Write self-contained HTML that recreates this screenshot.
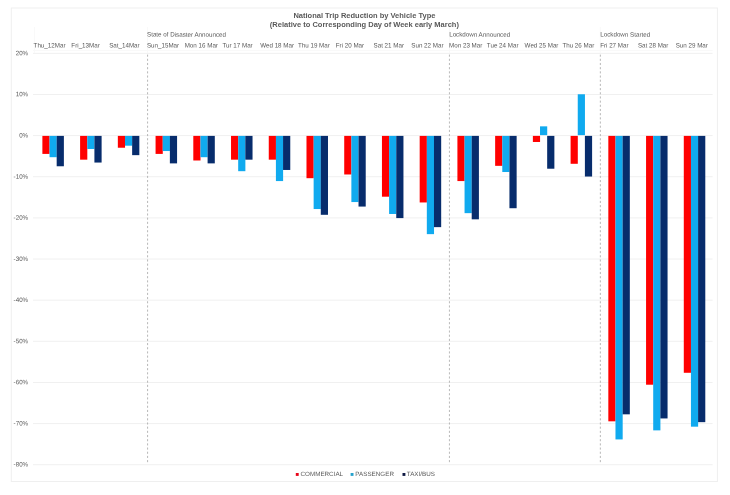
<!DOCTYPE html>
<html><head><meta charset="utf-8"><title>National Trip Reduction by Vehicle Type</title>
<style>html,body{margin:0;padding:0;background:#fff}svg{display:block}</style></head>
<body>
<svg width="730" height="495" viewBox="0 0 730 495" font-family="Liberation Sans, Arial, sans-serif" fill="#595959">
<rect width="730" height="495" fill="#fff"/>
<rect x="11.3" y="8.0" width="706.1" height="473.5" fill="#fff" stroke="#EFEFEF" stroke-width="1"/>
<g stroke="#F0F0F0" stroke-width="1">
<line x1="33.0" x2="712.6" y1="53.32" y2="53.32"/>
<line x1="33.0" x2="712.6" y1="94.46" y2="94.46"/>
<line x1="33.0" x2="712.6" y1="135.60" y2="135.60"/>
<line x1="33.0" x2="712.6" y1="176.74" y2="176.74"/>
<line x1="33.0" x2="712.6" y1="217.88" y2="217.88"/>
<line x1="33.0" x2="712.6" y1="259.02" y2="259.02"/>
<line x1="33.0" x2="712.6" y1="300.16" y2="300.16"/>
<line x1="33.0" x2="712.6" y1="341.30" y2="341.30"/>
<line x1="33.0" x2="712.6" y1="382.44" y2="382.44"/>
<line x1="33.0" x2="712.6" y1="423.58" y2="423.58"/>
<line x1="33.0" x2="712.6" y1="464.72" y2="464.72"/>
</g>
<text transform="matrix(0.97,0.001,0,1,28.10,55.22)" font-size="6.4" text-anchor="end">20%</text>
<text transform="matrix(0.97,0.001,0,1,28.10,96.36)" font-size="6.4" text-anchor="end">10%</text>
<text transform="matrix(0.97,0.001,0,1,28.10,137.50)" font-size="6.4" text-anchor="end">0%</text>
<text transform="matrix(0.97,0.001,0,1,28.10,178.64)" font-size="6.4" text-anchor="end">-10%</text>
<text transform="matrix(0.97,0.001,0,1,28.10,219.78)" font-size="6.4" text-anchor="end">-20%</text>
<text transform="matrix(0.97,0.001,0,1,28.10,260.92)" font-size="6.4" text-anchor="end">-30%</text>
<text transform="matrix(0.97,0.001,0,1,28.10,302.06)" font-size="6.4" text-anchor="end">-40%</text>
<text transform="matrix(0.97,0.001,0,1,28.10,343.20)" font-size="6.4" text-anchor="end">-50%</text>
<text transform="matrix(0.97,0.001,0,1,28.10,384.34)" font-size="6.4" text-anchor="end">-60%</text>
<text transform="matrix(0.97,0.001,0,1,28.10,425.48)" font-size="6.4" text-anchor="end">-70%</text>
<text transform="matrix(0.97,0.001,0,1,28.10,466.62)" font-size="6.4" text-anchor="end">-80%</text>
<g stroke="#F9F9F9" stroke-width="1">
<line x1="33" x2="712.6" y1="50.5" y2="50.5"/>
<line x1="34.40" x2="34.40" y1="27" y2="53"/>
<line x1="147.59" x2="147.59" y1="27" y2="53"/>
<line x1="449.43" x2="449.43" y1="27" y2="53"/>
<line x1="600.35" x2="600.35" y1="27" y2="53"/>
</g>
<g stroke="#A6A6A6" stroke-width="0.8" stroke-dasharray="2.1 2.08">
<line x1="147.59" x2="147.59" y1="54.6" y2="464"/>
<line x1="449.43" x2="449.43" y1="54.6" y2="464"/>
<line x1="600.35" x2="600.35" y1="54.6" y2="464"/>
</g>
<g fill="#FF0000">
<rect x="42.38" y="135.90" width="7.20" height="18.01"/>
<rect x="80.11" y="135.90" width="7.20" height="23.77"/>
<rect x="117.84" y="135.90" width="7.20" height="11.84"/>
<rect x="155.57" y="135.90" width="7.20" height="18.01"/>
<rect x="193.30" y="135.90" width="7.20" height="24.60"/>
<rect x="231.03" y="135.90" width="7.20" height="23.77"/>
<rect x="268.76" y="135.90" width="7.20" height="23.77"/>
<rect x="306.49" y="135.90" width="7.20" height="42.29"/>
<rect x="344.22" y="135.90" width="7.20" height="38.58"/>
<rect x="381.95" y="135.90" width="7.20" height="60.80"/>
<rect x="419.68" y="135.90" width="7.20" height="66.56"/>
<rect x="457.41" y="135.90" width="7.20" height="45.17"/>
<rect x="495.14" y="135.90" width="7.20" height="29.94"/>
<rect x="532.87" y="135.90" width="7.20" height="6.08"/>
<rect x="570.60" y="135.90" width="7.20" height="27.89"/>
<rect x="608.33" y="135.90" width="7.20" height="285.42"/>
<rect x="646.06" y="135.90" width="7.20" height="248.81"/>
<rect x="683.79" y="135.90" width="7.20" height="236.88"/>
</g>
<g fill="#10AAEF">
<rect x="49.53" y="135.90" width="7.20" height="21.30"/>
<rect x="87.26" y="135.90" width="7.20" height="13.08"/>
<rect x="124.99" y="135.90" width="7.20" height="9.79"/>
<rect x="162.72" y="135.90" width="7.20" height="15.13"/>
<rect x="200.45" y="135.90" width="7.20" height="21.30"/>
<rect x="238.18" y="135.90" width="7.20" height="35.29"/>
<rect x="275.91" y="135.90" width="7.20" height="45.17"/>
<rect x="313.64" y="135.90" width="7.20" height="73.14"/>
<rect x="351.37" y="135.90" width="7.20" height="66.15"/>
<rect x="389.10" y="135.90" width="7.20" height="78.08"/>
<rect x="426.83" y="135.90" width="7.20" height="98.24"/>
<rect x="464.56" y="135.90" width="7.20" height="77.25"/>
<rect x="502.29" y="135.90" width="7.20" height="36.11"/>
<rect x="540.02" y="126.35" width="7.20" height="8.75"/>
<rect x="577.75" y="94.26" width="7.20" height="40.84"/>
<rect x="615.48" y="135.90" width="7.20" height="303.52"/>
<rect x="653.21" y="135.90" width="7.20" height="294.47"/>
<rect x="690.94" y="135.90" width="7.20" height="290.77"/>
</g>
<g fill="#072C6C">
<rect x="56.68" y="135.90" width="7.20" height="30.36"/>
<rect x="94.41" y="135.90" width="7.20" height="26.65"/>
<rect x="132.14" y="135.90" width="7.20" height="19.25"/>
<rect x="169.87" y="135.90" width="7.20" height="27.48"/>
<rect x="207.60" y="135.90" width="7.20" height="27.48"/>
<rect x="245.33" y="135.90" width="7.20" height="23.77"/>
<rect x="283.06" y="135.90" width="7.20" height="34.06"/>
<rect x="320.79" y="135.90" width="7.20" height="78.90"/>
<rect x="358.52" y="135.90" width="7.20" height="70.67"/>
<rect x="396.25" y="135.90" width="7.20" height="82.19"/>
<rect x="433.98" y="135.90" width="7.20" height="91.24"/>
<rect x="471.71" y="135.90" width="7.20" height="83.43"/>
<rect x="509.44" y="135.90" width="7.20" height="72.32"/>
<rect x="547.17" y="135.90" width="7.20" height="32.82"/>
<rect x="584.90" y="135.90" width="7.20" height="40.64"/>
<rect x="622.63" y="135.90" width="7.20" height="278.43"/>
<rect x="660.36" y="135.90" width="7.20" height="282.54"/>
<rect x="698.09" y="135.90" width="7.20" height="286.25"/>
</g>
<text transform="matrix(0.975,0.001,0,1,33.60,47.40)" font-size="6.4">Thu_12Mar</text>
<text transform="matrix(0.975,0.001,0,1,71.37,47.40)" font-size="6.4">Fri_13Mar</text>
<text transform="matrix(0.975,0.001,0,1,109.14,47.40)" font-size="6.4">Sat_14Mar</text>
<text transform="matrix(0.975,0.001,0,1,146.91,47.40)" font-size="6.4">Sun_15Mar</text>
<text transform="matrix(0.975,0.001,0,1,184.68,47.40)" font-size="6.4">Mon 16 Mar</text>
<text transform="matrix(0.975,0.001,0,1,222.45,47.40)" font-size="6.4">Tur 17 Mar</text>
<text transform="matrix(0.975,0.001,0,1,260.22,47.40)" font-size="6.4">Wed 18 Mar</text>
<text transform="matrix(0.975,0.001,0,1,297.99,47.40)" font-size="6.4">Thu 19 Mar</text>
<text transform="matrix(0.975,0.001,0,1,335.76,47.40)" font-size="6.4">Fri 20 Mar</text>
<text transform="matrix(0.975,0.001,0,1,373.53,47.40)" font-size="6.4">Sat 21 Mar</text>
<text transform="matrix(0.975,0.001,0,1,411.30,47.40)" font-size="6.4">Sun 22 Mar</text>
<text transform="matrix(0.975,0.001,0,1,449.07,47.40)" font-size="6.4">Mon 23 Mar</text>
<text transform="matrix(0.975,0.001,0,1,486.84,47.40)" font-size="6.4">Tue 24 Mar</text>
<text transform="matrix(0.975,0.001,0,1,524.61,47.40)" font-size="6.4">Wed 25 Mar</text>
<text transform="matrix(0.975,0.001,0,1,562.38,47.40)" font-size="6.4">Thu 26 Mar</text>
<text transform="matrix(0.975,0.001,0,1,600.15,47.40)" font-size="6.4">Fri 27 Mar</text>
<text transform="matrix(0.975,0.001,0,1,637.92,47.40)" font-size="6.4">Sat 28 Mar</text>
<text transform="matrix(0.975,0.001,0,1,675.69,47.40)" font-size="6.4">Sun 29 Mar</text>
<text transform="matrix(0.975,0.001,0,1,147.01,36.60)" font-size="6.4">State of Disaster Announced</text>
<text transform="matrix(0.975,0.001,0,1,449.17,36.60)" font-size="6.4">Lockdown Announced</text>
<text transform="matrix(0.975,0.001,0,1,600.25,36.60)" font-size="6.4">Lockdown Started</text>
<text transform="matrix(1.0,0.0004,0,1,364.40,18.25)" font-size="7.5" text-anchor="middle" font-weight="bold">National Trip Reduction by Vehicle Type</text>
<text transform="matrix(1.0,0.0004,0,1,364.40,26.75)" font-size="7.5" text-anchor="middle" font-weight="bold">(Relative to Corresponding Day of Week early March)</text>
<rect x="295.8" y="473.0" width="2.9" height="2.9" fill="#E8051A"/>
<text transform="matrix(1.015,0.001,0,1,300.50,475.95)" font-size="6.2">COMMERCIAL</text>
<rect x="350.6" y="473.0" width="2.9" height="2.9" fill="#27A2CC"/>
<text transform="matrix(1.015,0.001,0,1,355.30,475.95)" font-size="6.2">PASSENGER</text>
<rect x="402.5" y="473.0" width="2.9" height="2.9" fill="#101A44"/>
<text transform="matrix(1.015,0.001,0,1,406.80,475.95)" font-size="6.2">TAXI/BUS</text>
</svg>
</body></html>
